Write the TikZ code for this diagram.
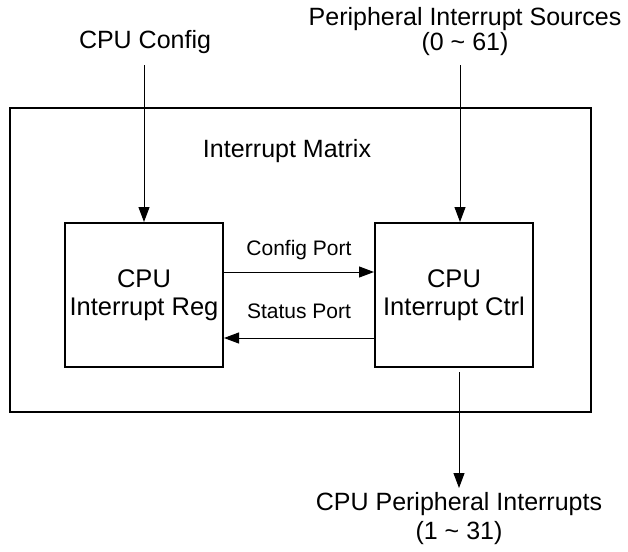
\documentclass[tikz,border=0pt]{standalone}
\usepackage{fontspec}
\setmainfont{Liberation Sans}
\usepackage{tikz}
\usetikzlibrary{arrows.meta,positioning,calc}

\begin{document}
\begin{tikzpicture}[
            x=1pt,y=-1pt,
            biglabel/.style={font=\fontsize{25}{25}\selectfont, align=center, inner sep=0pt},
            portlabel/.style={font=\fontsize{21}{21}\selectfont, inner sep=0pt, anchor=base},
            blockbox/.style={draw, line width=2pt, minimum width=158pt, minimum height=144pt, align=center, font=\fontsize{25.5}{28}\selectfont},
            outerbox/.style={draw, line width=2pt, minimum width=581pt, minimum height=304pt, inner sep=0pt},
            arr/.style={-{Triangle[length=15pt,width=11pt]}, line width=1pt}
        ]
            \useasboundingbox (0,0) rectangle (628,551);

            % frame
            \node[outerbox] (matrix) at (300.5,260) {};
            \node[biglabel] (title) at (287,151) {Interrupt Matrix};

            % blocks
            \node[blockbox] (reg) at (144,295) {CPU\\Interrupt Reg};
            \node[blockbox] (ctrl) at (454,295) {CPU\\Interrupt Ctrl};

            % outside labels
            \node[biglabel] (cfg) at (145,42) {CPU Config};
            \node[biglabel] (src) at (465,32) {Peripheral Interrupt Sources\\(0 \char`~\ 61)};
            \node[biglabel, font=\fontsize{25}{29}\selectfont] (out) at (459,519) {CPU Peripheral Interrupts\\(1 \char`~\ 31)};
            \coordinate (outtip) at (459,488);

            % inputs
            \draw[arr] (reg.north |- 0,65) -- (reg.north);
            \draw[arr] ([xshift=6pt]ctrl.north |- 0,65) -- ([xshift=6pt]ctrl.north);

            % ports
            \draw[arr] ([yshift=23pt]reg.east) -- ([yshift=23pt]ctrl.west)
                node[portlabel, midway, yshift=17pt] {Config Port};
            \draw[arr] ([yshift=-43pt]ctrl.west) -- ([yshift=-43pt]reg.east)
                node[portlabel, midway, yshift=20pt] {Status Port};

            % output
            \draw[arr] (outtip |- 0,372) -- (outtip);
        \end{tikzpicture}
\end{document}
